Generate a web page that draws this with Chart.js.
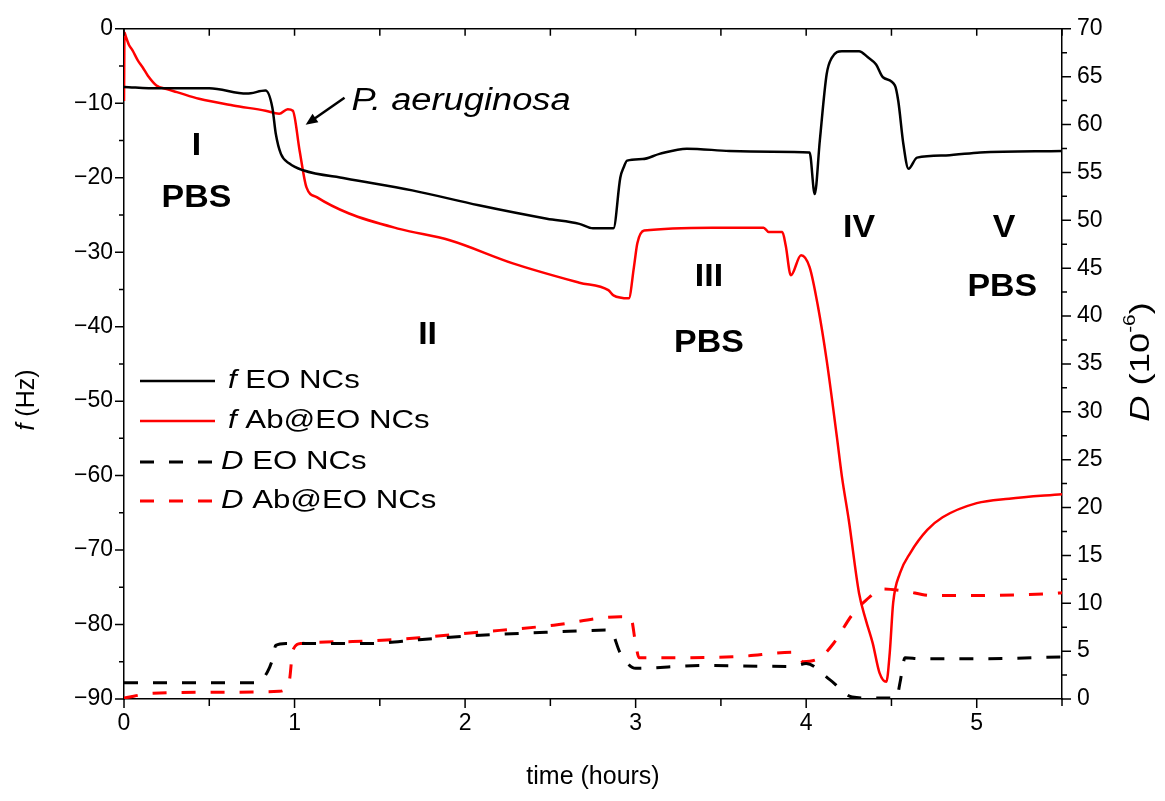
<!DOCTYPE html>
<html>
<head>
<meta charset="utf-8">
<script src="https://cdn.jsdelivr.net/npm/chart.js@4.4.1/dist/chart.umd.min.js"></script>
<style>
    html, body { margin: 0; padding: 0; background: #fff; }
    #wrap { position: relative; width: 1165px; height: 801px; }
</style>
</head>
<body>
<div id="wrap"><canvas id="chart" width="1165" height="801"></canvas></div>
<script>
const FONT = '"Liberation Sans", Arial, sans-serif';

// f (Hz), EO NCs
const timeFEO = [0, 0.2, 0.5, 0.72, 0.83, 0.87, 0.89, 0.92, 0.97, 1.05, 1.3, 1.69, 2.08, 2.48, 2.67, 2.75, 2.87, 2.91, 2.93, 2.95, 3.04, 3.14, 3.3, 3.55, 3.8, 4.02, 4.05, 4.08, 4.12, 4.15, 4.21, 4.31, 4.36, 4.41, 4.45, 4.52, 4.54, 4.57, 4.60, 4.65, 4.82, 5.02, 5.5];
const freqEO   = [-7.8, -8.0, -8.0, -8.7, -8.3, -10.6, -14.1, -16.8, -18.1, -19.0, -20.1, -21.7, -23.7, -25.5, -26.2, -26.8, -26.8, -20.0, -18.6, -17.7, -17.5, -16.8, -16.1, -16.4, -16.5, -16.6, -22.2, -15.0, -6.1, -3.9, -3.0, -3.0, -3.8, -4.8, -6.5, -7.6, -9.7, -15.5, -18.8, -17.3, -17.0, -16.6, -16.4];

// f (Hz), Ab@EO NCs
const timeFAb = [0, 0.003, 0.01, 0.03, 0.05, 0.08, 0.11, 0.14, 0.19, 0.25, 0.31, 0.44, 0.64, 0.83, 0.91, 0.96, 0.99, 1.03, 1.07, 1.13, 1.32, 1.62, 1.91, 2.28, 2.67, 2.84, 2.87, 2.96, 2.99, 3.01, 3.05, 3.45, 3.75, 3.78, 3.86, 3.88, 3.91, 3.97, 4.02, 4.07, 4.12, 4.18, 4.21, 4.25, 4.31, 4.35, 4.39, 4.43, 4.47, 4.49, 4.51, 4.55, 4.61, 4.71, 4.80, 5.0, 5.19, 5.5];
const freqAb   = [-9.7, -0.5, -1.0, -2.2, -2.9, -4.2, -5.2, -6.3, -7.6, -8.1, -8.5, -9.4, -10.3, -11.0, -11.4, -10.8, -11.0, -16.4, -21.3, -22.6, -24.8, -26.9, -28.4, -31.5, -34.1, -35.1, -35.8, -36.2, -32.0, -28.8, -27.1, -26.7, -26.7, -27.3, -27.3, -29.1, -33.1, -30.4, -32.0, -37.4, -44.5, -54.8, -60.2, -66.0, -75.8, -79.4, -82.5, -86.5, -87.7, -83.8, -77.1, -73.1, -70.4, -67.3, -65.6, -63.7, -63.1, -62.5];

// D (1e-6), EO NCs
const timeDEO = [0, 0.78, 0.84, 0.87, 0.89, 0.95, 1.44, 1.73, 2.03, 2.52, 2.85, 2.91, 3.0, 3.38, 3.92, 4.0, 4.14, 4.27, 4.39, 4.53, 4.55, 4.58, 4.67, 5.04, 5.5];
const dissEO   = [1.7, 1.7, 2.8, 4.1, 5.6, 5.8, 5.8, 6.2, 6.6, 7.0, 7.2, 4.8, 3.2, 3.5, 3.4, 3.7, 2.0, 0.2, 0.1, 0.1, 1.7, 4.3, 4.2, 4.2, 4.4];

// D (1e-6), Ab@EO NCs
const timeDAb = [0, 0.17, 0.56, 0.91, 0.97, 0.99, 1.04, 1.34, 1.73, 2.03, 2.52, 2.91, 2.97, 3.0, 3.02, 3.57, 3.94, 3.98, 4.08, 4.16, 4.27, 4.35, 4.45, 4.57, 4.74, 5.44, 5.5];
const dissAb   = [0.1, 0.6, 0.7, 0.8, 2.0, 5.1, 5.8, 6.0, 6.4, 6.9, 7.7, 8.6, 8.6, 5.8, 4.3, 4.4, 4.9, 3.9, 4.3, 5.8, 8.8, 10.3, 11.5, 11.3, 10.8, 11.0, 11.1];

const seriesLabels = ['EO NCs', 'Ab@EO NCs', 'EO NCs', 'Ab@EO NCs'];

// stage labels: [text, time, f]
const stageLabels = [
    ['I', 0.425, -15.7], ['PBS', 0.425, -22.8],
    ['II', 1.78, -41.2],
    ['III', 3.43, -33.4], ['PBS', 3.43, -42.2],
    ['IV', 4.31, -26.8],
    ['V', 5.16, -26.8], ['PBS', 5.15, -34.7]
];
const arrowFrom = [1.293, -9.25];
const arrowTo = [1.065, -12.9];
const bacteriaLabel = ['P. aeruginosa', 1.334, -9.7];

const toPts = (xs, ys) => xs.map((x, i) => ({ x: x, y: ys[i] }));
const minus = v => String(v).replace('-', '\u2212');

// draws a run of text pieces with mixed styles; hs stretches along the text
function drawParts(ctx, parts, x, y, align, hs) {
    hs = hs || 1;
    let total = 0;
    parts.forEach(p => {
        ctx.font = (p.italic ? 'italic ' : '') + (p.bold ? 'bold ' : '') + p.size + 'px ' + FONT;
        p.w = ctx.measureText(p.text).width;
        total += p.w;
    });
    ctx.save();
    ctx.translate(x, y);
    ctx.scale(hs, 1);
    let cx = align === 'center' ? -total / 2 : 0;
    parts.forEach(p => {
        ctx.font = (p.italic ? 'italic ' : '') + (p.bold ? 'bold ' : '') + p.size + 'px ' + FONT;
        ctx.fillText(p.text, cx, p.dy || 0);
        cx += p.w;
    });
    ctx.restore();
}

const decorations = {
    id: 'decorations',
    afterDraw(chart) {
        const { ctx, chartArea: a, scales } = chart;
        const sx = scales.x, sy = scales.y, sd = scales.yD;
        ctx.save();

        // tick marks + top frame
        ctx.strokeStyle = '#000';
        ctx.lineWidth = 1.5;
        ctx.beginPath();
        ctx.moveTo(a.left, a.top);
        ctx.lineTo(a.right, a.top);
        sx.ticks.forEach(t => {
            const p = sx.getPixelForValue(t.value);
            const len = t.label !== '' ? 9 : 7;
            ctx.moveTo(p, a.bottom); ctx.lineTo(p, a.bottom + len);
            ctx.moveTo(p, a.top); ctx.lineTo(p, a.top + 7);
        });
        sy.ticks.forEach(t => {
            const p = sy.getPixelForValue(t.value);
            const len = t.label !== '' ? 9 : 5;
            ctx.moveTo(a.left, p); ctx.lineTo(a.left - len, p);
        });
        sd.ticks.forEach(t => {
            const p = sd.getPixelForValue(t.value);
            const len = t.label !== '' ? 9 : 5;
            ctx.moveTo(a.right, p); ctx.lineTo(a.right + len, p);
        });
        ctx.stroke();

        ctx.fillStyle = '#000';
        ctx.textBaseline = 'middle';

        // stage labels
        stageLabels.forEach(([txt, t, f]) => {
            drawParts(ctx, [{ text: txt, bold: true, size: 32 }],
                sx.getPixelForValue(t), sy.getPixelForValue(f), 'center', 1.06);
        });

        // arrow to injection point
        const x0 = sx.getPixelForValue(arrowFrom[0]), y0 = sy.getPixelForValue(arrowFrom[1]);
        const x1 = sx.getPixelForValue(arrowTo[0]), y1 = sy.getPixelForValue(arrowTo[1]);
        const ang = Math.atan2(y1 - y0, x1 - x0);
        ctx.lineWidth = 2.5;
        ctx.beginPath();
        ctx.moveTo(x0, y0);
        ctx.lineTo(x1 - 8 * Math.cos(ang), y1 - 8 * Math.sin(ang));
        ctx.stroke();
        ctx.beginPath();
        ctx.moveTo(x1, y1);
        ctx.lineTo(x1 - 13 * Math.cos(ang - 0.4), y1 - 13 * Math.sin(ang - 0.4));
        ctx.lineTo(x1 - 13 * Math.cos(ang + 0.4), y1 - 13 * Math.sin(ang + 0.4));
        ctx.closePath();
        ctx.fill();
        drawParts(ctx, [{ text: bacteriaLabel[0], italic: true, size: 31 }],
            sx.getPixelForValue(bacteriaLabel[1]), sy.getPixelForValue(bacteriaLabel[2]), 'left', 1.17);

        // legend
        const ds = chart.data.datasets;
        const rows = [381, 421, 462, 501];
        ds.forEach((d, i) => {
            ctx.strokeStyle = d.borderColor;
            ctx.lineWidth = d.borderWidth;
            ctx.setLineDash(d.borderDash || []);
            ctx.beginPath();
            ctx.moveTo(a.left + 16, rows[i]);
            ctx.lineTo(a.left + 91, rows[i]);
            ctx.stroke();
            ctx.setLineDash([]);
            const sym = i < 2 ? 'f' : 'D';
            drawParts(ctx, [
                { text: sym, italic: true, size: 26 },
                { text: ' ' + seriesLabels[i], size: 26 }
            ], a.left + (i < 2 ? 104 : 97), rows[i], 'left', 1.2);
        });

        // axis titles
        drawParts(ctx, [{ text: 'time (hours)', size: 25 }], (a.left + a.right) / 2, 777, 'center');

        ctx.save();
        ctx.translate(27, 400);
        ctx.rotate(-Math.PI / 2);
        drawParts(ctx, [
            { text: 'f', italic: true, size: 25 },
            { text: ' (Hz)', size: 25 }
        ], 0, 0, 'center');
        ctx.restore();

        ctx.save();
        ctx.translate(1141, 362);
        ctx.rotate(-Math.PI / 2);
        drawParts(ctx, [
            { text: 'D', italic: true, size: 28 },
            { text: ' (10', size: 28 },
            { text: '-6', size: 16, dy: -10 },
            { text: ')', size: 28 }
        ], 0, 0, 'center', 1.3);
        ctx.restore();

        ctx.restore();
    }
};

const tickFont = { family: FONT, size: 23 };

new Chart(document.getElementById('chart'), {
    type: 'line',
    data: {
        datasets: [{
            label: 'f EO NCs',
            data: toPts(timeFEO, freqEO),
            yAxisID: 'y',
            borderColor: '#000000',
            borderWidth: 2.5
        }, {
            label: 'f Ab@EO NCs',
            data: toPts(timeFAb, freqAb),
            yAxisID: 'y',
            borderColor: '#ff0000',
            borderWidth: 2.5
        }, {
            label: 'D EO NCs',
            data: toPts(timeDEO, dissEO),
            yAxisID: 'yD',
            borderColor: '#000000',
            borderWidth: 3,
            borderDash: [14, 15]
        }, {
            label: 'D Ab@EO NCs',
            data: toPts(timeDAb, dissAb),
            yAxisID: 'yD',
            borderColor: '#ff0000',
            borderWidth: 3,
            borderDash: [14, 15]
        }]
    },
    options: {
        responsive: false,
        animation: false,
        events: [],
        layout: { padding: { top: 28, left: 0, right: 0, bottom: 0 } },
        elements: {
            point: { radius: 0 },
            line: { cubicInterpolationMode: 'monotone', fill: false, borderJoinStyle: 'round' }
        },
        plugins: {
            legend: { display: false },
            tooltip: { enabled: false }
        },
        scales: {
            x: {
                type: 'linear',
                min: 0,
                max: 5.5,
                afterFit: s => { s.height = 102; },
                grid: { drawOnChartArea: false, drawTicks: false },
                border: { display: true, color: '#000', width: 1.5 },
                ticks: {
                    stepSize: 0.5,
                    autoSkip: false,
                    maxRotation: 0,
                    padding: 11,
                    color: '#000',
                    font: tickFont,
                    callback: v => Number.isInteger(v) ? String(v) : ''
                }
            },
            y: {
                position: 'left',
                min: -90,
                max: 0,
                afterFit: s => { s.width = 124; },
                grid: { drawOnChartArea: false, drawTicks: false },
                border: { display: true, color: '#000', width: 1.5 },
                ticks: {
                    stepSize: 5,
                    autoSkip: false,
                    padding: 11,
                    color: '#000',
                    font: tickFont,
                    callback: v => v % 10 === 0 ? minus(v) : ''
                }
            },
            yD: {
                position: 'right',
                min: 0,
                max: 70,
                afterFit: s => { s.width = 103; },
                grid: { drawOnChartArea: false, drawTicks: false },
                border: { display: true, color: '#000', width: 1.5 },
                ticks: {
                    stepSize: 2.5,
                    autoSkip: false,
                    padding: 15,
                    color: '#000',
                    font: tickFont,
                    callback: v => v % 5 === 0 ? String(v) : ''
                }
            }
        }
    },
    plugins: [decorations]
});
</script>
</body>
</html>
